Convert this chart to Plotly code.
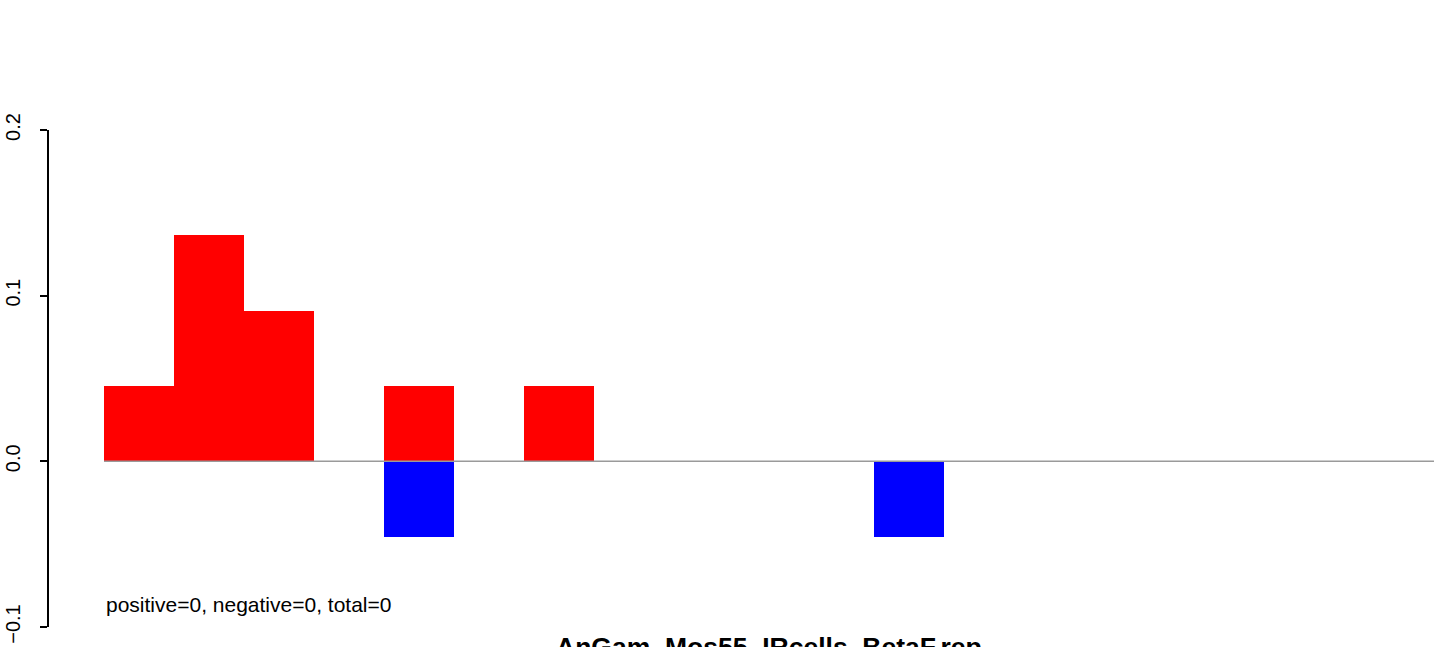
import plotly.graph_objects as go

# Data
n_bins = 19
bin_index = list(range(n_bins))
positive_vals = [0.04545, 0.13636, 0.09091, 0, 0.04545, 0, 0.04545, 0, 0, 0, 0, 0, 0, 0, 0, 0, 0, 0, 0]
negative_vals = [0, 0, 0, 0, -0.04545, 0, 0, 0, 0, 0, 0, -0.04545, 0, 0, 0, 0, 0, 0, 0]
y_ticks = [-0.1, 0.0, 0.1, 0.2]
y_tick_labels = ["\u22120.1", "0.0", "0.1", "0.2"]
summary_text = "positive=0, negative=0, total=0"
title_text = "AnGam_Mos55_IRcells_BetaF.rep"

W, H = 1441, 647
x_px0 = 104.0   # pixel of x=0
x_unit = 70.0   # pixels per bin
axis_px = 49.0
y_top_px, y_bot_px = 130.0, 627.0

centers = [i + 0.5 for i in bin_index]
FONT = "Liberation Sans, Arial, sans-serif"

fig = go.Figure()
fig.add_trace(go.Bar(x=centers, y=positive_vals, width=1.0, base=0,
                     marker=dict(color="#ff0000", line=dict(width=0)), showlegend=False,
                     hoverinfo="skip"))
fig.add_trace(go.Bar(x=centers, y=negative_vals, width=1.0, base=0,
                     marker=dict(color="#0000ff", line=dict(width=0)), showlegend=False,
                     hoverinfo="skip"))

fig.add_shape(type="line", xref="x", yref="y", x0=0, x1=n_bins, y0=0, y1=0,
              line=dict(color="#9a9a9a", width=1.5), layer="above")

fig.add_annotation(x=0, y=-0.0862, xref="x", yref="y", text=summary_text,
                   showarrow=False, xanchor="left", yanchor="middle",
                   font=dict(size=21, color="black", family=FONT))
fig.add_annotation(x=769 / W, y=(H - 647) / H, xref="paper", yref="paper",
                   text="<b>" + title_text + "</b>",
                   showarrow=False, xanchor="center", yanchor="middle",
                   font=dict(size=26.5, color="black", family=FONT))

xr0 = (axis_px - x_px0) / x_unit
xr1 = (W - x_px0) / x_unit
fig.update_layout(
    width=W, height=H,
    margin=dict(l=0, r=0, t=0, b=0, autoexpand=False),
    plot_bgcolor="white", paper_bgcolor="white",
    barmode="overlay", bargap=0,
    xaxis=dict(domain=[axis_px / W, 1], range=[xr0, xr1], visible=False, fixedrange=True,
               automargin=False),
    yaxis=dict(domain=[(H - y_bot_px) / H, (H - y_top_px) / H], range=[-0.1, 0.2],
               automargin=False, fixedrange=True,
               showgrid=False, zeroline=False, showline=True, linecolor="black", linewidth=1.5,
               ticks="outside", ticklen=7, tickwidth=1.5, tickcolor="black",
               tickvals=y_ticks, ticktext=y_tick_labels, tickangle=-90,
               ticklabelstandoff=12,
               tickfont=dict(size=20, color="black", family=FONT)),
    font=dict(family=FONT),
)

fig.write_html("out.html", config={"displayModeBar": False},
               post_script="document.body.style.margin='0';")
